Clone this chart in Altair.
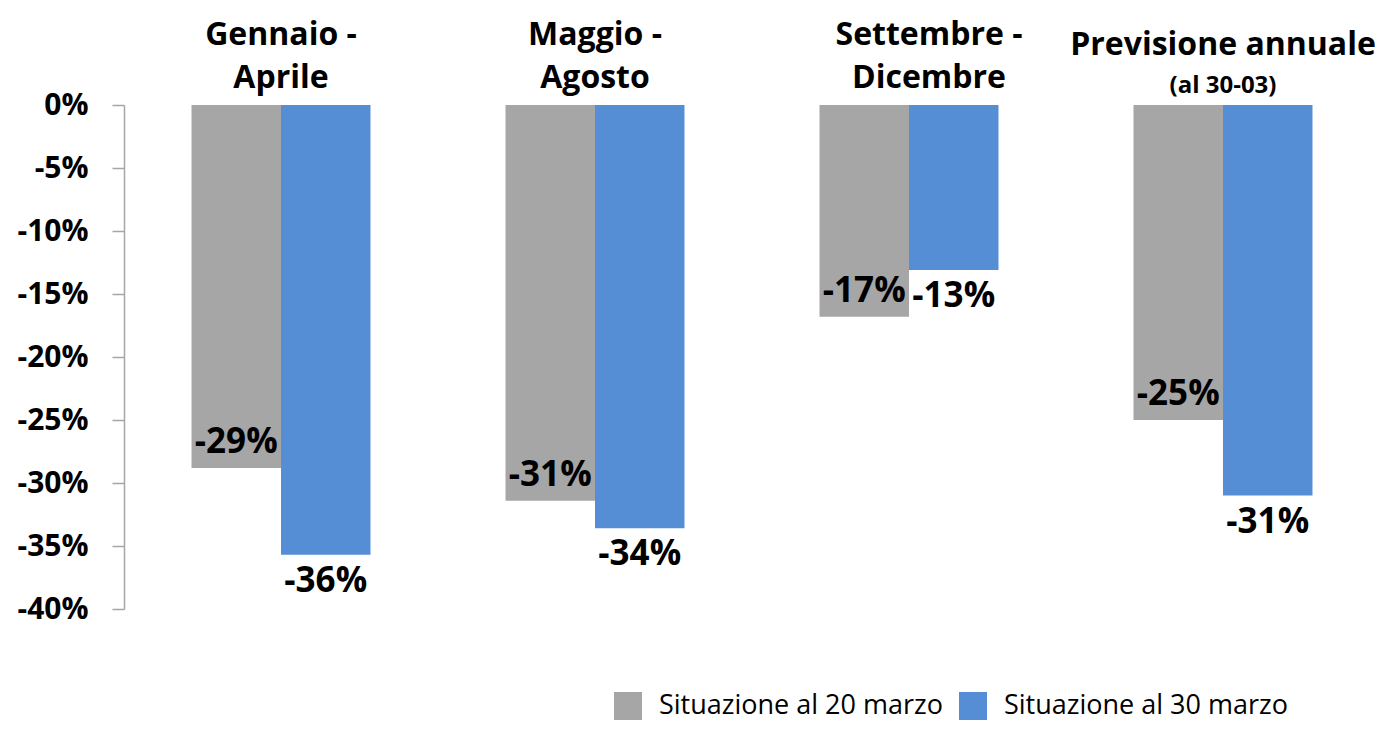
import altair as alt
import pandas as pd

cats = ["Gennaio - Aprile", "Maggio - Agosto", "Settembre - Dicembre", "Previsione annuale"]
title_line1 = ["Gennaio -", "Maggio -", "Settembre -", "Previsione annuale"]
title_line2 = ["Aprile", "Agosto", "Dicembre", "(al 30-03)"]
series = ["Situazione al 20 marzo", "Situazione al 30 marzo"]
v20 = [-28.8, -31.4, -16.8, -25.0]
v30 = [-35.7, -33.6, -13.1, -31.0]
y_ticks = [0, -5, -10, -15, -20, -25, -30, -35, -40]
colors = ["#a6a6a6", "#558ed5"]

FONT = "Open Sans"

df = pd.DataFrame({
    "cat": cats * 2,
    "series": [series[0]] * len(cats) + [series[1]] * len(cats),
    "value": v20 + v30,
})
df_t = pd.DataFrame({"cat": cats, "l1": title_line1, "l2": title_line2})

x = alt.X("cat:N", sort=cats, axis=None,
          scale=alt.Scale(domain=cats, paddingInner=0.43, paddingOuter=0.215))
xo = alt.XOffset("series:N", sort=series,
                 scale=alt.Scale(domain=series, paddingInner=0, paddingOuter=0))
y = alt.Y("value:Q",
          scale=alt.Scale(domain=[-40, 0], nice=False),
          axis=alt.Axis(values=y_ticks, labelExpr="datum.value + '%'", grid=False,
                        domainColor="#a6a6a6", tickColor="#a6a6a6", domainWidth=1.5,
                        tickWidth=1.5, tickSize=12, labelFont=FONT, labelFontWeight="bold",
                        labelFontSize=30, labelColor="black", labelPadding=24, title=None))

bars = alt.Chart(df).mark_bar().encode(
    x=x, xOffset=xo, y=y,
    color=alt.Color("series:N",
                    scale=alt.Scale(domain=series, range=colors),
                    legend=alt.Legend(orient="none", legendX=490, legendY=587,
                                      direction="horizontal", title=None,
                                      symbolType="square", symbolSize=784,
                                      symbolStrokeWidth=0, labelFont=FONT,
                                      labelFontSize=27, labelColor="black",
                                      labelLimit=500, labelOffset=17,
                                      columnPadding=16, padding=0)),
)

def value_labels(s, dy):
    return alt.Chart(df).transform_filter(alt.datum.series == s).transform_calculate(
        lbl="round(datum.value) + '%'"
    ).mark_text(dy=dy, baseline="alphabetic", font=FONT, fontWeight="bold",
                fontSize=35, color="black").encode(x=x, xOffset=xo, y=y, text="lbl:N")

lab20 = value_labels(series[0], -15)
lab30 = value_labels(series[1], 37)

def title_layer(cat_list, field, dy, size=32, dx=0):
    return alt.Chart(df_t).transform_filter(
        alt.FieldOneOfPredicate(field="cat", oneOf=cat_list)
    ).mark_text(dy=dy, dx=dx, baseline="alphabetic", font=FONT, fontWeight="bold",
                fontSize=size, color="black").encode(
        x=x, y=alt.datum(0), text=f"{field}:N")

titles = [
    title_layer(cats[:2], "l1", -60),
    title_layer(cats[:2], "l2", -17),
    title_layer([cats[2]], "l1", -60, dx=20),
    title_layer([cats[2]], "l2", -17, dx=20),
    title_layer([cats[3]], "l1", -50),
    title_layer([cats[3]], "l2", -12, size=24),
]

chart = alt.layer(bars, lab20, lab30, *titles).properties(
    width=1256, height=504,
    autosize=alt.AutoSizeParams(type="none"),
    padding={"left": 116, "top": 97, "right": 8, "bottom": 113},
).configure_view(stroke=None)

chart.save("out.html", embed_options={"renderer": "svg", "actions": False})
